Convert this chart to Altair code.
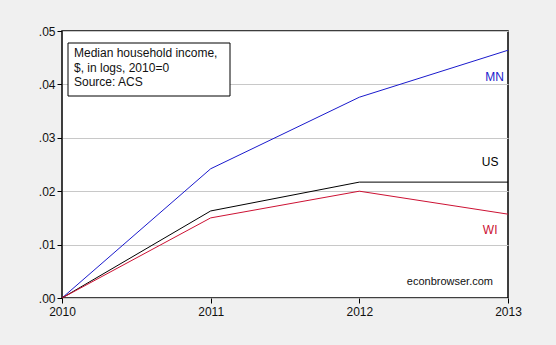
import altair as alt
import pandas as pd

years = [2010, 2011, 2012, 2013]
mn = [0.0, 0.0242, 0.0376, 0.0464]
us = [0.0, 0.0163, 0.0217, 0.0217]
wi = [0.0, 0.0150, 0.0200, 0.0157]

series_names = ["MN", "US", "WI"]
series_colors = ["#1a1acc", "#000000", "#cc1133"]

label_x = [2012.91, 2012.88, 2012.88]
label_y = [0.0413, 0.0254, 0.0128]

note_lines = ["Median household income,", "$, in logs, 2010=0", "Source: ACS"]
credit = "econbrowser.com"

rows = []
for name, vals in zip(series_names, [mn, us, wi]):
    for yr, v in zip(years, vals):
        rows.append({"year": yr, "value": v, "series": name})
df = pd.DataFrame(rows)
lab = pd.DataFrame({"series": series_names, "x": label_x, "y": label_y})

font = "Liberation Sans"
xs = alt.Scale(domain=[2010, 2013], nice=False)
ys = alt.Scale(domain=[0, 0.05], nice=False)
cs = alt.Scale(domain=series_names, range=series_colors)

lines = alt.Chart(df).mark_line(strokeWidth=1, clip=True).encode(
    x=alt.X("year:Q", scale=xs,
            axis=alt.Axis(values=years, format="d", title=None, grid=False,
                          tickSize=5, tickColor="#000", domain=False,
                          labelFont=font, labelFontSize=12, labelColor="#111",
                          labelPadding=3, labelFlush=False)),
    y=alt.Y("value:Q", scale=ys,
            axis=alt.Axis(values=[0, 0.01, 0.02, 0.03, 0.04, 0.05], title=None,
                          labelExpr="substring(format(datum.value, '.2f'), 1)",
                          grid=True, gridColor="#c8c8c8", gridWidth=1,
                          tickSize=5, tickColor="#000", domain=False,
                          labelFont=font, labelFontSize=12, labelColor="#111",
                          labelPadding=2)),
    color=alt.Color("series:N", scale=cs, legend=None),
    detail="series:N",
)

labels = alt.Chart(lab).mark_text(font=font, fontSize=12, align="center", baseline="middle").encode(
    x=alt.X("x:Q", scale=xs),
    y=alt.Y("y:Q", scale=ys),
    text="series:N",
    color=alt.Color("series:N", scale=cs, legend=None),
)

box = alt.Chart(pd.DataFrame({"a": [0]})).mark_rect(fill="white", stroke="black", strokeWidth=1).encode(
    x=alt.value(6), x2=alt.value(168), y=alt.value(12), y2=alt.value(65)
)
note = alt.Chart(pd.DataFrame({"a": [0]})).mark_text(
    font=font, fontSize=12, align="left", baseline="top", lineHeight=14.5, color="#111"
).encode(x=alt.value(12), y=alt.value(17), text=alt.value(note_lines))

cred = alt.Chart(pd.DataFrame({"a": [0]})).mark_text(
    font=font, fontSize=11, align="right", baseline="middle", color="#111"
).encode(x=alt.value(431), y=alt.value(251), text=alt.value(credit))

chart = alt.layer(lines, labels, box, note, cred).properties(
    width=446, height=267,
    background="#f0f0f0",
    autosize=alt.AutoSizeParams(type="none"),
    padding={"left": 62, "top": 31, "right": 48, "bottom": 47},
).configure_view(fill="white", stroke="black", strokeWidth=1.5)

chart.save("out.html", embed_options={"renderer": "svg", "actions": False})
